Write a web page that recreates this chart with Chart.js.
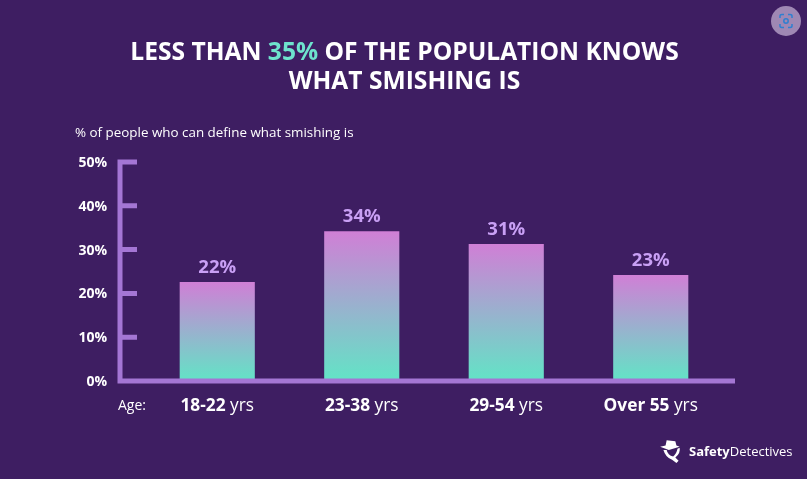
<!DOCTYPE html>
<html>
<head>
<meta charset="utf-8">
<script src="https://cdn.jsdelivr.net/npm/chart.js@4"></script>
<style>
  html, body { margin: 0; padding: 0; background: #3e1e62; }
  #wrap { position: relative; width: 807px; height: 479px; overflow: hidden; background: #3e1e62; font-family: "Open Sans", sans-serif; color: #fff; }
  #chart { position: absolute; left: 0; top: 0; }
  .txt { position: absolute; white-space: nowrap; }
  #title { left: 0; width: 809px; top: 36px; text-align: center; font-size: 24.6px; line-height: 29px; font-weight: 700; }
  #title span { color: #6ee3cd; }
  #subtitle { left: 75px; top: 124px; font-size: 13.4px; line-height: 17px; }
  #age { left: 118px; top: 396px; font-size: 14px; line-height: 18px; }
  #brand { left: 689px; top: 442px; font-size: 13px; line-height: 18px; }
  #brand b { font-weight: 700; }
  #logo { position: absolute; left: 659px; top: 438px; }
  #lens { position: absolute; left: 771px; top: 6px; }
</style>
</head>
<body>
<div id="wrap">
  <canvas id="chart" width="807" height="479"></canvas>
  <div class="txt" id="title">LESS THAN <span>35%</span> OF THE POPULATION KNOWS<br>WHAT SMISHING IS</div>
  <div class="txt" id="subtitle">% of people who can define what smishing is</div>
  <div class="txt" id="age">Age:</div>
  <svg id="logo" width="24" height="26" viewBox="0 0 22 24">
    <path d="M1 8 L6 7 L7 2 L15 3 L16 7 L19 8 L9 11 Z" fill="#fff"/>
    <path d="M4 11 Q6 18 12 20 L16 23 L18 21 L15 18 Q20 14 19 9 L17 10 Q16 15 13 17 Q8 16 7 11 Z" fill="#fff"/>
  </svg>
  <div class="txt" id="brand"><b>Safety</b>Detectives</div>
  <svg id="lens" width="30" height="30" viewBox="0 0 30 30">
    <circle cx="15" cy="15" r="15" fill="#9f88b4"/>
    <path d="M9 12 V10 Q9 8.500 11 8.500 H13 M17 8.500 H19 Q21 8.500 21 10 V12 M21 18 V20 Q21 21.500 19 21.500 H17 M13 21.500 H11 Q9 21.500 9 20 V18" fill="none" stroke="#2f7fd0" stroke-width="1.500"/>
    <circle cx="15" cy="15" r="2.200" fill="none" stroke="#2f7fd0" stroke-width="1.500"/>
  </svg>
</div>
<script>
// data
const categories = ['18-22', '23-38', '29-54', 'Over 55'];
const unit = 'yrs';
const values = [22.6, 34.2, 31.3, 24.2];
const valueLabels = ['22%', '34%', '31%', '23%'];

const axisColor = '#a476d4';

// axis with inner ticks, the line sticks out past the plot area
const axisPlugin = {
    id: 'axisLines',
    afterDatasetsDraw(chart) {
        const ctx = chart.ctx;
        const y = chart.scales.y;
        const axisX = chart.chartArea.left - 25;
        const base = y.getPixelForValue(0);
        ctx.save();
        ctx.strokeStyle = axisColor;
        ctx.lineWidth = 5;
        ctx.beginPath();
        ctx.moveTo(axisX, y.getPixelForValue(50) - 2.5);
        ctx.lineTo(axisX, base + 2.5);
        ctx.moveTo(axisX - 2.5, base);
        ctx.lineTo(chart.chartArea.right + 12, base);
        y.ticks.forEach(function(t) {
            if (t.value === 0) return;
            const py = y.getPixelForValue(t.value);
            ctx.moveTo(axisX, py);
            ctx.lineTo(axisX + 17, py);
        });
        ctx.stroke();
        ctx.restore();
    }
};

// value above each bar and the half bold category label below it
const labelPlugin = {
    id: 'barLabels',
    afterDraw(chart) {
        const ctx = chart.ctx;
        const bars = chart.getDatasetMeta(0).data;
        const x = chart.scales.x;
        ctx.save();
        ctx.textBaseline = 'alphabetic';
        bars.forEach(function(bar, i) {
            ctx.textAlign = 'center';
            ctx.fillStyle = '#c9a0f5';
            ctx.font = '700 18.5px "Open Sans"';
            ctx.fillText(valueLabels[i], bar.x, bar.y - 9);

            const boldFont = '700 17.3px "Open Sans"';
            const normalFont = '400 17.3px "Open Sans"';
            ctx.font = boldFont;
            const w1 = ctx.measureText(categories[i] + ' ').width;
            ctx.font = normalFont;
            const w2 = ctx.measureText(unit).width;
            const cx = x.getPixelForValue(i);
            const left = cx - (w1 + w2) / 2;
            ctx.textAlign = 'left';
            ctx.fillStyle = '#fff';
            ctx.font = boldFont;
            ctx.fillText(categories[i], left, 411);
            ctx.font = normalFont;
            ctx.fillText(unit, left + w1, 411);
        });
        ctx.restore();
    }
};

// one gradient per bar, top to base of that bar
function barGradient(context) {
    const y = context.chart.scales.y;
    const fallback = '#a0a0d0';
    if (!y || context.raw === undefined) return fallback;
    const top = y.getPixelForValue(context.raw);
    const base = y.getPixelForValue(0);
    // options get resolved once before layout, pixels are not ready then
    if (!Number.isFinite(top) || !Number.isFinite(base)) return fallback;
    const g = context.chart.ctx.createLinearGradient(0, top, 0, base);
    g.addColorStop(0, '#d07fd6');
    g.addColorStop(1, '#62e4c6');
    return g;
}

new Chart(document.getElementById('chart').getContext('2d'), {
    type: 'bar',
    data: {
        labels: categories,
        datasets: [{
            data: values,
            backgroundColor: barGradient,
            borderWidth: 0,
            barPercentage: 0.52,
            categoryPercentage: 1
        }]
    },
    plugins: [axisPlugin, labelPlugin],
    options: {
        responsive: false,
        animation: false,
        layout: { autoPadding: false, padding: { top: 162, right: 84 } },
        plugins: { legend: { display: false }, tooltip: { enabled: false } },
        scales: {
            x: {
                grid: { display: false },
                border: { display: false },
                ticks: { display: false },
                afterFit(scale) { scale.height = 98; }
            },
            y: {
                min: 0,
                max: 50,
                grid: { display: false },
                border: { display: false },
                afterFit(scale) { scale.width = 145; },
                ticks: {
                    stepSize: 10,
                    padding: 30,
                    labelOffset: 1,
                    color: '#fff',
                    font: { family: '"Open Sans"', size: 14, weight: '700' },
                    callback: function(v) { return v + '%'; }
                }
            }
        }
    }
});
</script>
</body>
</html>
